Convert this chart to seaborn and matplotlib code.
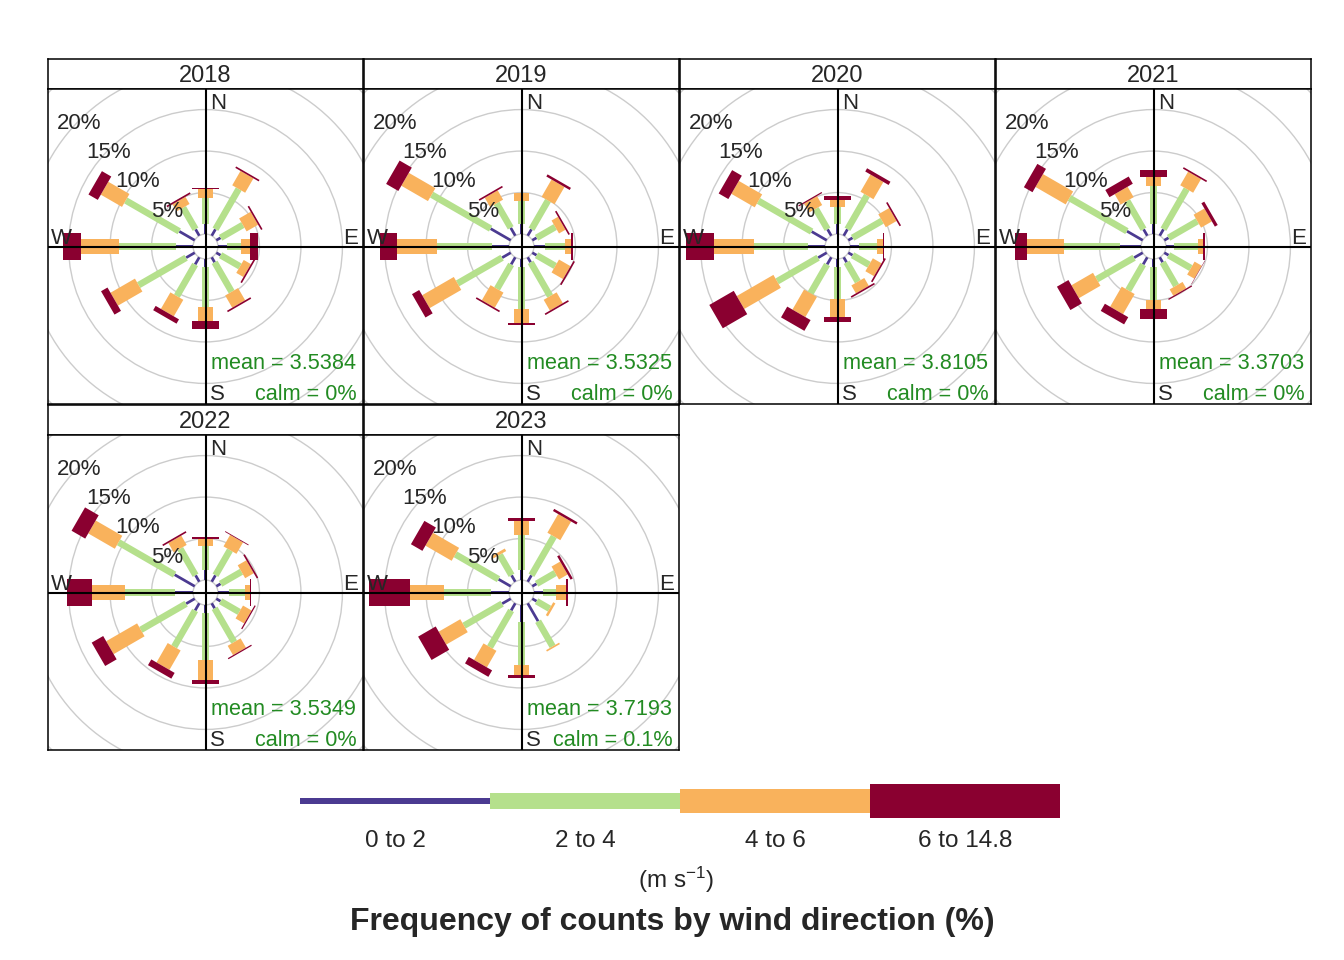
import numpy as np
import matplotlib
matplotlib.use("Agg")
import matplotlib.pyplot as plt
from matplotlib.transforms import Affine2D
import seaborn as sns

# ---- data -------------------------------------------------------------
years = ["2018", "2019", "2020", "2021", "2022", "2023"]
directions = [0, 30, 60, 90, 120, 150, 180, 210, 240, 270, 300, 330]
speed_bins = ["0 to 2", "2 to 4", "4 to 6", "6 to 14.8"]
mean_speed = ["3.5384", "3.5325", "3.8105", "3.3703", "3.5349", "3.7193"]
calm_pct = ["0%", "0%", "0%", "0%", "0%", "0.1%"]

# frequency (%) by direction (rows, N clockwise) and speed bin (columns)
freq_2018 = [[1.2, 3.2, 1.0, 0.2], [0.9, 5.6, 2.0, 0.2], [0.6, 3.1, 1.6, 0.2],
             [1.1, 1.7, 1.1, 0.9], [0.6, 2.7, 1.0, 0.2], [0.7, 4.1, 1.7, 0.2],
             [1.0, 4.8, 1.7, 0.9], [1.0, 4.4, 2.3, 0.6], [1.2, 6.6, 3.4, 0.9],
             [2.0, 6.9, 4.65, 2.15], [2.15, 7.45, 2.95, 1.3], [0.9, 3.0, 1.0, 0.2]]
freq_2019 = [[1.2, 2.8, 0.9, 0.1], [0.9, 4.0, 2.4, 0.3], [0.6, 2.6, 0.9, 0.2],
             [1.3, 2.4, 0.8, 0.2], [0.6, 2.6, 1.6, 0.2], [0.7, 4.7, 1.5, 0.2],
             [1.0, 5.0, 1.7, 0.2], [1.0, 3.4, 2.1, 0.2], [1.2, 6.2, 4.4, 1.0],
             [2.1, 6.6, 4.85, 2.05], [2.8, 8.2, 3.7, 1.7], [1.1, 3.4, 1.3, 0.2]]
freq_2020 = [[1.2, 2.0, 0.9, 0.5], [0.9, 4.7, 2.4, 0.45], [0.6, 4.1, 1.5, 0.2],
             [1.1, 2.1, 0.8, 0.1], [0.6, 2.3, 1.2, 0.2], [0.7, 2.7, 1.1, 0.2],
             [1.0, 3.8, 2.2, 0.65], [1.0, 4.0, 2.8, 1.5], [1.2, 5.7, 5.1, 3.4],
             [2.0, 6.6, 4.75, 3.45], [2.1, 7.4, 3.25, 1.35], [0.9, 2.85, 1.25, 0.15]]
freq_2021 = [[1.2, 4.6, 1.1, 0.8], [0.9, 5.6, 1.9, 0.2], [0.6, 4.0, 1.5, 0.4],
             [1.0, 2.9, 0.6, 0.15], [0.6, 3.1, 1.0, 0.05], [0.7, 3.25, 0.9, 0.15],
             [1.0, 3.9, 1.15, 1.15], [1.0, 3.6, 2.8, 1.0], [1.2, 5.2, 3.0, 1.6],
             [2.5, 6.8, 4.5, 1.4], [2.2, 8.0, 4.2, 1.2], [0.9, 3.95, 1.45, 1.0]]
freq_2022 = [[1.2, 2.9, 0.9, 0.2], [0.9, 3.5, 1.6, 0.1], [0.6, 2.9, 1.2, 0.2],
             [1.3, 2.0, 0.6, 0.1], [0.6, 2.6, 1.2, 0.15], [0.7, 4.7, 1.3, 0.15],
             [1.0, 5.6, 2.4, 0.5], [1.0, 5.05, 2.7, 0.8], [1.2, 6.3, 4.3, 1.6],
             [2.2, 6.0, 3.95, 3.05], [2.8, 7.8, 3.7, 1.9], [0.9, 3.7, 1.3, 0.2]]
freq_2023 = [[1.2, 4.2, 1.7, 0.35], [0.9, 5.4, 2.6, 0.3], [0.6, 2.6, 1.2, 0.3],
             [1.1, 1.6, 1.2, 0.2], [0.6, 1.8, 0.3, 0.0], [2.5, 3.5, 0.2, 0.0],
             [2.0, 5.25, 1.15, 0.4], [1.0, 5.1, 2.3, 0.9], [1.2, 5.3, 3.0, 2.45],
             [2.2, 5.6, 4.15, 4.95], [1.7, 6.0, 3.65, 1.6], [0.9, 2.85, 0.35, 0.0]]
all_freq = [freq_2018, freq_2019, freq_2020, freq_2021, freq_2022, freq_2023]

grid_levels = [0, 5, 10, 15, 20, 25]
label_levels = [5, 10, 15, 20]

# ---- style --------------------------------------------------------------
sns.set_style("white")
plt.rcParams["font.family"] = ["Liberation Sans", "DejaVu Sans"]
plt.rcParams["mathtext.default"] = "regular"

bin_colors = sns.color_palette(["#4B3A91", "#B5E08C", "#F9B25C", "#8A0030"])
paddle_widths = [0.33, 0.80, 1.80, 3.25]      # in % units
legend_heights = [6, 15.7, 24.7, 34]           # pixels
off_set = 1.5
half_range = 18.98
calm_green = "#228B22"

W, H = 1344, 960
fig = plt.figure(figsize=(W / 100, H / 100), dpi=100)


def px_rect(x0, y0, w, h):
    return [x0 / W, 1 - (y0 + h) / H, w / W, h / H]


def draw_rose(ax, freq, mean, calm):
    for r in grid_levels:
        ax.add_patch(plt.Circle((0, 0), off_set + r, fill=False,
                                ec="#cccccc", lw=1.0, zorder=1))
    freq = np.asarray(freq, dtype=float)
    ends = np.cumsum(freq, axis=1)
    starts = ends - freq
    for d, st, fr in zip(directions, starts, freq):
        rot = Affine2D().rotate_deg(90 - d) + ax.transData
        ax.barh(np.zeros(len(fr)), fr, left=st + off_set, height=paddle_widths,
                color=bin_colors, linewidth=0, transform=rot, zorder=2)
    ax.axhline(0, color="black", lw=1.5, zorder=4)
    ax.axvline(0, color="black", lw=1.5, zorder=4)
    s45 = np.sin(np.pi / 4)
    for r in label_levels:
        rr = off_set + r
        ax.text(-rr * s45, rr * s45 - 0.35, f"{r}%", ha="center", va="center",
                fontsize=16, zorder=5)
    ax.text(0.5, half_range - 0.5, "N", ha="left", va="top", fontsize=16, zorder=5)
    ax.text(0.5, -half_range + 0.45, "S", ha="left", va="baseline", fontsize=16, zorder=5)
    ax.text(half_range - 0.6, 0.3, "E", ha="right", va="baseline", fontsize=16, zorder=5)
    ax.text(-half_range + 0.3, 0.3, "W", ha="left", va="baseline", fontsize=16, zorder=5)
    ax.text(half_range - 0.8, -14.1, f"mean = {mean}", ha="right", va="center",
            fontsize=15.6, color=calm_green, zorder=5)
    ax.text(half_range - 0.8, -17.8, f"calm = {calm}", ha="right", va="center",
            fontsize=15.6, color=calm_green, zorder=5)
    ax.set_xlim(-half_range, half_range)
    ax.set_ylim(-half_range, half_range)
    ax.set_xticks([])
    ax.set_yticks([])
    for sp in ax.spines.values():
        sp.set_color("black")
        sp.set_linewidth(1.1)


col_left = [48, 364, 680, 996]
row_top = [59, 405]
for i, (yr, freq) in enumerate(zip(years, all_freq)):
    x0 = col_left[i % 4]
    y0 = row_top[i // 4]
    sax = fig.add_axes(px_rect(x0, y0, 315, 30))
    sax.set_xticks([])
    sax.set_yticks([])
    sax.set_facecolor("white")
    for sp in sax.spines.values():
        sp.set_color("black")
        sp.set_linewidth(1.1)
    sax.text(0.5, 0.45, yr, ha="center", va="center", fontsize=17,
             transform=sax.transAxes)
    ax = fig.add_axes(px_rect(x0, y0 + 30, 315, 315))
    draw_rose(ax, freq, mean_speed[i], calm_pct[i])

# ---- key ----------------------------------------------------------------
kax = fig.add_axes(px_rect(300, 784, 760, 34))
kax.barh(np.zeros(len(speed_bins)), np.ones(len(speed_bins)),
         left=np.arange(len(speed_bins)), height=legend_heights,
         color=bin_colors, linewidth=0)
kax.set_xlim(0, len(speed_bins))
kax.set_ylim(-17, 17)
kax.axis("off")
for i, lab in enumerate(speed_bins):
    fig.text((300 + 95 + 190 * i) / W, 1 - 841 / H, lab, ha="center",
             va="center", fontsize=17.5)
fig.text(676 / W, 1 - 880 / H, "(m s$^{-1}$)", ha="center", va="center",
         fontsize=17.5)
fig.text(672 / W, 1 - 922 / H, "Frequency of counts by wind direction (%)",
         ha="center", va="center", fontsize=23, fontweight="bold")

fig.savefig("out.png", dpi=100, facecolor="white")
